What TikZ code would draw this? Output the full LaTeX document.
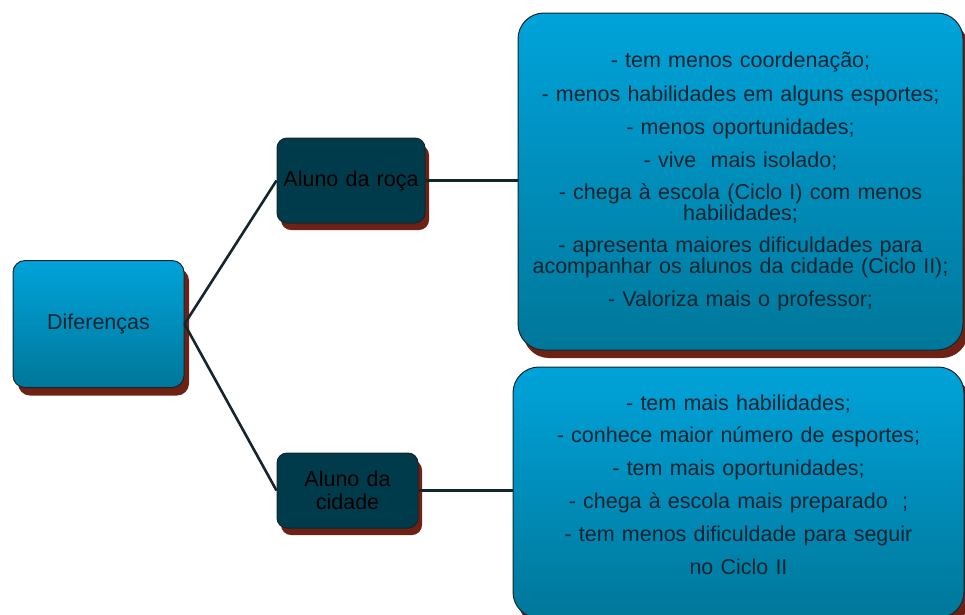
\documentclass[tikz,border=0pt]{standalone}
\usepackage{fontspec}
\setmainfont{Liberation Sans}[WordSpace=1.2]
\usetikzlibrary{shadows}
\definecolor{boxtop}{HTML}{00A3DA}
\definecolor{boxbot}{HTML}{00779A}
\definecolor{boxdark}{HTML}{003B4B}
\definecolor{boxline}{HTML}{14262C}
\definecolor{shadowred}{HTML}{6E2216}
\definecolor{inkdark}{HTML}{0B2430}
\tikzset{
  mapbox/.style={draw=boxline,line width=1pt,top color=boxtop,bottom color=boxbot,
    text=inkdark,align=center,inner sep=0pt,
    drop shadow={shadow xshift=5pt,shadow yshift=-8pt,fill=shadowred,opacity=1}},
  darkbox/.style={draw=boxline,line width=1pt,fill=boxdark,text=black,align=center,
    inner sep=0pt,rounded corners=10pt,
    drop shadow={shadow xshift=4pt,shadow yshift=-7pt,fill=shadowred,opacity=1}},
  link/.style={draw=boxline,line width=2.6pt}
}
\begin{document}
\begin{tikzpicture}[x=1pt,y=-1pt,font=\fontsize{21.5}{20}\selectfont]
            \useasboundingbox (0,0) rectangle (965,614);
            \node[mapbox,rounded corners=12pt,minimum width=171pt,minimum height=127pt] at (98.5,324)(dif){Diferenças};
            \node[darkbox,minimum width=148pt,minimum height=85pt] at (351,180.5)(roca){Aluno da roça};
            \node[darkbox,minimum width=141pt,minimum height=75pt] at (347.5,490.5)(cidade){Aluno da\\[3pt]cidade};
            \node[mapbox,rounded corners=26pt,minimum width=445pt,minimum height=337pt] at (740.5,181.5)(rocaTxt){%
                - tem menos coordenação;\\[12pt]
                - menos habilidades em alguns esportes;\\[12pt]
                - menos oportunidades;\\[12pt]
                - vive \ mais isolado;\\[12pt]
                - chega à escola (Ciclo I) com menos\\habilidades;\\[12pt]
                - apresenta maiores dificuldades para\\acompanhar os alunos da cidade (Ciclo II);\\[12pt]
                - Valoriza mais o professor;};
            \node[mapbox,rounded corners=26pt,minimum width=451pt,minimum height=251pt] at (738.5,492.5)(cidadeTxt){%
                - tem mais habilidades;\\[12pt]
                - conhece maior número de esportes;\\[12pt]
                - tem mais oportunidades;\\[12pt]
                - chega à escola mais preparado \ ;\\[12pt]
                - tem menos dificuldade para seguir\\[12pt]
                no Ciclo II\\[-4pt]\mbox{}};
            %\node at (740,600){};
            \path[link] (dif.east) -- (roca.west);
            \path[link] (dif.east) -- (cidade.west);
            \path[link] (roca.east) -- (roca.east -| rocaTxt.west);
            \path[link] (cidade.east) -- (cidade.east -| cidadeTxt.west);
        \end{tikzpicture}
\end{document}
